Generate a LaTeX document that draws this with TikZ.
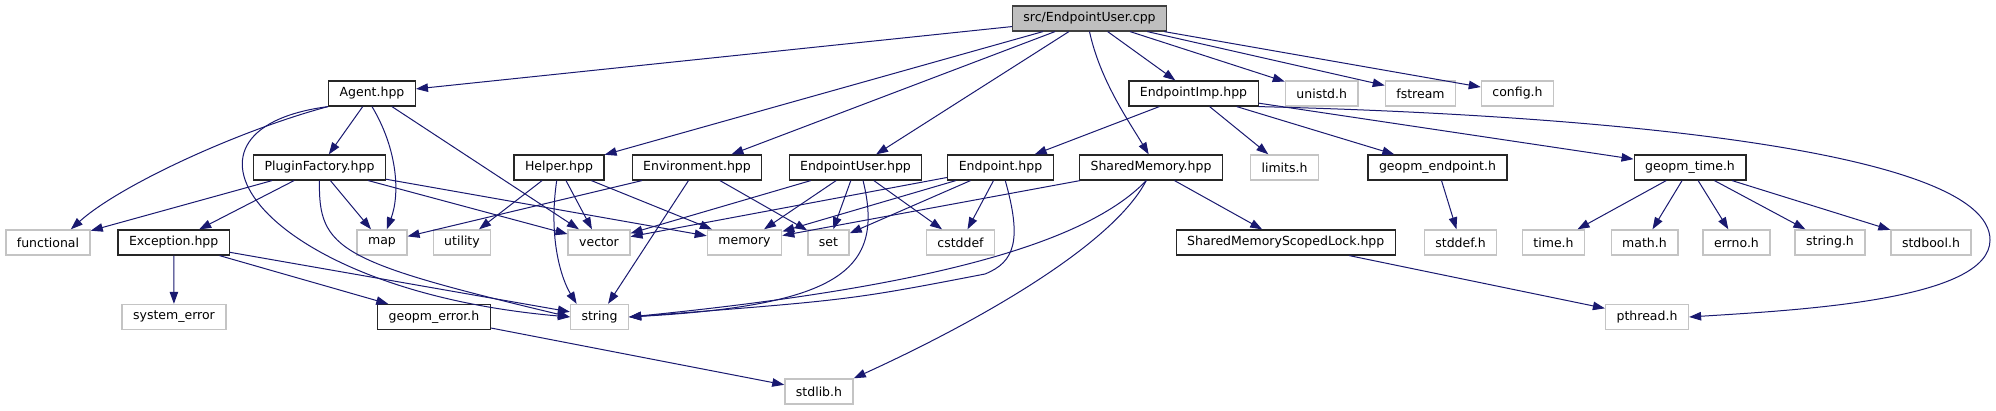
\documentclass[tikz,border=0pt]{standalone}
\usepackage{fontspec}
\setmainfont{DejaVu Sans}
\usetikzlibrary{arrows.meta}
\definecolor{edgeblue}{HTML}{191970}
\definecolor{lightframe}{HTML}{C4C4C4}
\definecolor{rootfill}{HTML}{BFBFBF}
\begin{document}
\begin{tikzpicture}[x=1pt,y=-1pt,>={Triangle[length=12pt,width=8.5pt]},
  every node/.style={font=\fontsize{12.5}{14}\selectfont,minimum height=25pt,inner xsep=11pt,inner ysep=0pt},
  hdr/.style={draw=black!85,line width=1.2pt,fill=white},
  sys/.style={draw=lightframe,line width=1.4pt,fill=white},
  root/.style={draw=black!75,line width=1.2pt,fill=rootfill},
  dep/.style={->,edgeblue,line width=1pt}]
\path[use as bounding box,fill=white] (0,0) rectangle (1996,411);
\node[root] (cpp) at (1089.5,18.5) {src/EndpointUser.cpp};
\node[hdr] (agent) at (372,93.5) {Agent.hpp};
\node[hdr] (eimp) at (1193.5,93.5) {EndpointImp.hpp};
\node[sys] (unistd) at (1321.7,93.5) {unistd.h};
\node[sys] (fstream) at (1420.5,93.5) {fstream};
\node[sys] (config) at (1517.5,93.5) {config.h};
\node[hdr] (pfac) at (319.5,167.5) {PluginFactory.hpp};
\node[hdr] (helper) at (559,167.5) {Helper.hpp};
\node[hdr] (env) at (697,167.5) {Environment.hpp};
\node[hdr] (euser) at (855.5,167.5) {EndpointUser.hpp};
\node[hdr] (endpt) at (1000.5,167.5) {Endpoint.hpp};
\node[hdr] (shmem) at (1151,167.5) {SharedMemory.hpp};
\node[sys] (limits) at (1284.5,167.5) {limits.h};
\node[hdr] (gend) at (1437.5,167.5) {geopm\_endpoint.h};
\node[hdr] (gtime) at (1690,167.5) {geopm\_time.h};
\node[sys] (functional) at (48,242.5) {functional};
\node[hdr] (exc) at (173.7,242.5) {Exception.hpp};
\node[sys] (map) at (382,242.5) {map};
\node[sys] (utility) at (462,242.5) {utility};
\node[sys] (vector) at (599,242.5) {vector};
\node[sys] (memory) at (744.5,242.5) {memory};
\node[sys] (setn) at (828.5,242.5) {set};
\node[sys] (cstddef) at (960.5,242.5) {cstddef};
\node[hdr] (smlock) at (1285.7,242.5) {SharedMemoryScopedLock.hpp};
\node[sys] (stddef) at (1460.5,242.5) {stddef.h};
\node[sys] (timeh) at (1553.5,242.5) {time.h};
\node[sys] (mathh) at (1644.5,242.5) {math.h};
\node[sys] (errnoh) at (1736.5,242.5) {errno.h};
\node[sys] (stringh) at (1830,242.5) {string.h};
\node[sys] (stdbool) at (1931,242.5) {stdbool.h};
\node[sys] (syserr) at (174,317) {system\_error};
\node[hdr] (gerr) at (434,317) {geopm\_error.h};
\node[sys] (string) at (599.5,317) {string};
\node[sys] (pthread) at (1647,317) {pthread.h};
\node[sys] (stdlib) at (819,391.5) {stdlib.h};
\draw[dep] (cpp) -- (agent);
\draw[dep] (cpp) -- (helper);
\draw[dep] (cpp) -- (env);
\draw[dep] (cpp) -- (euser);
\draw[dep] (cpp.south) .. controls (1100,80) and (1128,120) .. (shmem.100);
\draw[dep] (cpp) -- (eimp);
\draw[dep] (cpp) -- (unistd);
\draw[dep] (cpp) -- (fstream);
\draw[dep] (cpp) -- (config);
\draw[dep] (agent.south west) .. controls (240,130) and (120,185) .. (functional.30);
\draw[dep] (agent.south west) .. controls (150,130) and (260,290) .. (string.west);
\draw[dep] (agent) -- (pfac);
\draw[dep] (agent.south) .. controls (398,150) and (400,195) .. (map.70);
\draw[dep] (agent) -- (vector);
\draw[dep] (pfac) -- (functional);
\draw[dep] (pfac) -- (exc);
\draw[dep] (pfac.south) .. controls (318,250) and (340,262) .. (string.west);
\draw[dep] (pfac) -- (map);
\draw[dep] (pfac) -- (vector);
\draw[dep] (pfac) -- (memory);
\draw[dep] (helper) -- (utility);
\draw[dep] (helper.260) .. controls (548,240) and (562,280) .. (string.150);
\draw[dep] (helper) -- (vector);
\draw[dep] (helper) -- (memory);
\draw[dep] (env) -- (map);
\draw[dep] (env) -- (string);
\draw[dep] (env) -- (setn);
\draw[dep] (euser) -- (vector);
\draw[dep] (euser) -- (memory);
\draw[dep] (euser) -- (setn);
\draw[dep] (euser) -- (cstddef);
\draw[dep] (euser.300) .. controls (885,270) and (840,305) .. (string.east);
\draw[dep] (endpt) -- (vector);
\draw[dep] (endpt) -- (memory);
\draw[dep] (endpt) -- (setn);
\draw[dep] (endpt) -- (cstddef);
\draw[dep] (endpt.290) .. controls (1022,240) and (1015,262) .. (985,274) .. controls (850,300) .. (string.east);
\draw[dep] (shmem) -- (memory);
\draw[dep] (shmem.250) .. controls (1080,250) and (900,290) .. (string.east);
\draw[dep] (shmem.250) .. controls (1110,250) and (960,330) .. (stdlib.north east);
\draw[dep] (shmem) -- (smlock);
\draw[dep] (eimp) -- (endpt);
\draw[dep] (eimp) -- (limits);
\draw[dep] (eimp) -- (gend);
\draw[dep] (eimp) -- (gtime);
\draw[dep] (eimp.south east) .. controls (1600,115) and (1990,150) .. (1990,240) .. controls (1990,300) and (1800,310) .. (pthread.east);
\draw[dep] (exc) -- (syserr);
\draw[dep] (exc) -- (gerr);
\draw[dep] (exc) -- (string);
\draw[dep] (gerr) -- (stdlib);
\draw[dep] (smlock) -- (pthread);
\draw[dep] (gend) -- (stddef);
\draw[dep] (gtime) -- (timeh);
\draw[dep] (gtime) -- (mathh);
\draw[dep] (gtime) -- (errnoh);
\draw[dep] (gtime) -- (stringh);
\draw[dep] (gtime) -- (stdbool);
\end{tikzpicture}
\end{document}
